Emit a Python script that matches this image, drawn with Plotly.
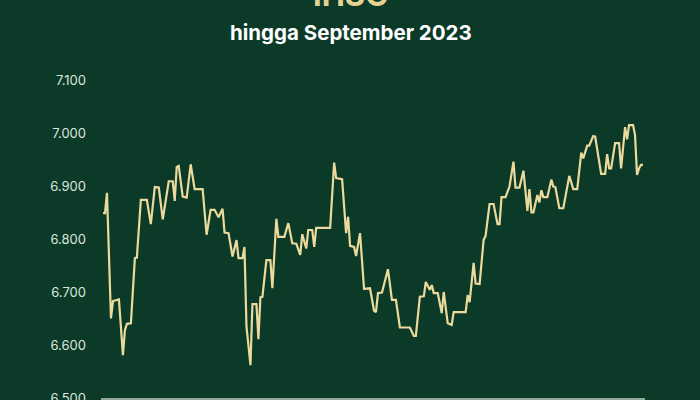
import plotly.graph_objects as go

# IHSG daily close, 2023
dates = [
    "2023-01-02", "2023-01-03", "2023-01-04", "2023-01-06", "2023-01-07", "2023-01-10",
    "2023-01-12", "2023-01-13", "2023-01-14", "2023-01-16", "2023-01-18", "2023-01-19",
    "2023-01-21", "2023-01-24", "2023-01-26", "2023-01-28", "2023-01-30", "2023-02-01",
    "2023-02-04", "2023-02-06", "2023-02-07", "2023-02-08", "2023-02-09", "2023-02-11",
    "2023-02-13", "2023-02-15", "2023-02-17", "2023-02-21", "2023-02-23", "2023-02-25",
    "2023-02-27", "2023-03-01", "2023-03-03", "2023-03-04", "2023-03-06", "2023-03-08",
    "2023-03-10", "2023-03-11", "2023-03-13", "2023-03-14", "2023-03-15", "2023-03-17",
    "2023-03-18", "2023-03-20", "2023-03-21", "2023-03-22", "2023-03-23", "2023-03-25",
    "2023-03-27", "2023-03-28", "2023-03-30", "2023-03-31", "2023-04-03", "2023-04-05",
    "2023-04-07", "2023-04-09", "2023-04-11", "2023-04-12", "2023-04-14", "2023-04-15",
    "2023-04-17", "2023-04-18", "2023-04-19", "2023-04-26", "2023-04-28", "2023-04-29",
    "2023-05-02", "2023-05-04", "2023-05-05", "2023-05-06", "2023-05-08", "2023-05-09",
    "2023-05-11", "2023-05-13", "2023-05-16", "2023-05-18", "2023-05-19", "2023-05-20",
    "2023-05-22", "2023-05-24", "2023-05-25", "2023-05-27", "2023-05-29", "2023-05-31",
    "2023-06-05", "2023-06-07", "2023-06-08", "2023-06-10", "2023-06-12", "2023-06-13",
    "2023-06-15", "2023-06-16", "2023-06-17", "2023-06-19", "2023-06-21", "2023-06-22",
    "2023-06-24", "2023-06-26", "2023-06-27", "2023-07-03", "2023-07-04", "2023-07-05",
    "2023-07-07", "2023-07-08", "2023-07-10", "2023-07-12", "2023-07-13", "2023-07-15",
    "2023-07-17", "2023-07-19", "2023-07-20", "2023-07-21", "2023-07-23", "2023-07-25",
    "2023-07-27", "2023-07-28", "2023-07-30", "2023-08-01", "2023-08-03", "2023-08-04",
    "2023-08-05", "2023-08-06", "2023-08-08", "2023-08-09", "2023-08-10", "2023-08-11",
    "2023-08-13", "2023-08-15", "2023-08-16", "2023-08-17", "2023-08-19", "2023-08-21",
    "2023-08-24", "2023-08-26", "2023-08-28", "2023-08-30", "2023-08-31", "2023-09-02",
    "2023-09-03", "2023-09-05", "2023-09-06", "2023-09-09", "2023-09-11", "2023-09-12",
    "2023-09-13", "2023-09-14", "2023-09-16", "2023-09-18", "2023-09-19", "2023-09-21",
    "2023-09-22", "2023-09-23", "2023-09-25", "2023-09-26", "2023-09-27", "2023-09-28",
    "2023-09-29", "2023-09-30",
]
values = [
    6849, 6849, 6887, 6650, 6683, 6686,
    6581, 6628, 6640, 6641, 6764, 6765,
    6874, 6874, 6828, 6898, 6897, 6837,
    6909, 6909, 6872, 6936, 6938, 6880,
    6878, 6941, 6894, 6894, 6808, 6855,
    6855, 6841, 6857, 6812, 6811, 6767,
    6798, 6764, 6764, 6785, 6635, 6562,
    6677, 6677, 6611, 6690, 6691, 6760,
    6760, 6707, 6838, 6804, 6804, 6830,
    6792, 6791, 6770, 6809, 6782, 6817,
    6817, 6785, 6821, 6821, 6944, 6915,
    6913, 6811, 6842, 6787, 6785, 6768,
    6811, 6706, 6707, 6665, 6662, 6698,
    6699, 6729, 6743, 6685, 6685, 6633,
    6633, 6617, 6617, 6691, 6692, 6719,
    6704, 6713, 6698, 6698, 6660, 6700,
    6641, 6638, 6662, 6662, 6694, 6681,
    6755, 6716, 6715, 6798, 6806, 6866,
    6866, 6828, 6828, 6879, 6879, 6899,
    6946, 6897, 6897, 6929, 6853, 6894,
    6850, 6850, 6883, 6869, 6892, 6879,
    6879, 6912, 6899, 6898, 6858, 6858,
    6919, 6894, 6894, 6963, 6952, 6976,
    6976, 6994, 6993, 6923, 6923, 6960,
    6933, 6933, 6981, 6981, 6933, 7011,
    6988, 7015, 7015, 6996, 6921, 6933,
    6940, 6940,
]

title_text = "IHSG"
subtitle_text = "hingga September 2023"
y_ticks = [6500, 6600, 6700, 6800, 6900, 7000, 7100]

BG = "#0b3b28"
LINE = "#ecd99c"
TXT = "#dce5dd"

fig = go.Figure()
fig.add_trace(go.Scatter(
    x=dates, y=values, mode="lines",
    line=dict(color=LINE, width=2.2),
    hoverinfo="skip", showlegend=False,
))

fig.update_layout(
    width=700, height=400,
    paper_bgcolor=BG, plot_bgcolor=BG,
    margin=dict(l=101, r=55, t=80, b=2),
    separators=",.",
    font=dict(family="Inter, Roboto, sans-serif", color=TXT),
    xaxis=dict(
        range=["2023-01-01", "2023-10-01"],
        showgrid=False, zeroline=False,
        showline=True, linecolor="#8fa898", linewidth=2,
        ticks="outside", ticklen=5, tickcolor="#8fa898",
        dtick="M1", tick0="2023-01-01",
        showticklabels=False, automargin=False,
    ),
    yaxis=dict(
        range=[6500, 7100],
        tickvals=y_ticks, tickformat=",.0f",
        showgrid=False, zeroline=False, showline=False,
        ticks="", ticklabelstandoff=14, ticklabeloverflow="allow",
        tickfont=dict(size=13, color=TXT, family="Inter, Roboto, sans-serif"),
        automargin=False,
    ),
    annotations=[
        dict(text="<b>" + title_text + "</b>", xref="paper", yref="paper",
             x=(350 - 101) / 544, y=1 + 65 / 318, xanchor="center", yanchor="bottom",
             showarrow=False, font=dict(size=31, color="#e6d394", family="Inter, sans-serif")),
        dict(text="<b>" + subtitle_text + "</b>", xref="paper", yref="paper",
             x=(351 - 101) / 544, y=1 + (80 - 33) / 318, xanchor="center", yanchor="middle",
             showarrow=False, font=dict(size=20.5, color="#ffffff", family="Inter, sans-serif")),
    ],
)

fig.write_html(
    "out.html",
    config={"displayModeBar": False},
    post_script="document.body.style.margin='0';document.body.style.overflow='hidden';document.body.style.background='" + BG + "';",
)
